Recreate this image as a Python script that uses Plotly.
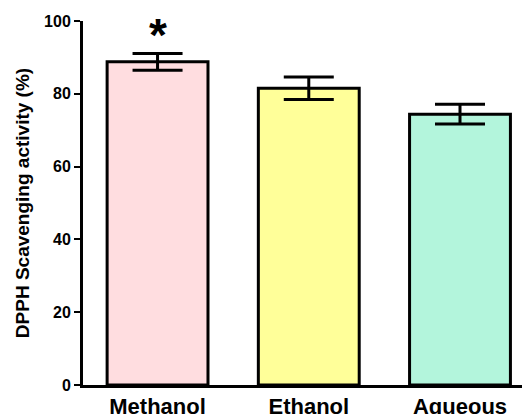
import plotly.graph_objects as go

categories = ["Methanol", "Ethanol", "Aqueous"]
means = [88.8, 81.5, 74.4]
errors = [2.3, 3.1, 2.7]
bar_colors = ["#FFDDE0", "#FFFF99", "#B3F5DC"]
significance = ["*", "", ""]
y_ticks = [0, 20, 40, 60, 80, 100]

FONT = "Liberation Sans, Arial, sans-serif"

fig = go.Figure()
fig.add_trace(go.Bar(
    x=categories, y=means,
    marker=dict(color=bar_colors, line=dict(color="black", width=3)),
    width=0.667,
    error_y=dict(type="data", array=errors, visible=True,
                 color="black", thickness=3, width=25),
))

for cat, m, e, s in zip(categories, means, errors, significance):
    if s:
        fig.add_annotation(x=cat, y=m + e, text="<b>" + s + "</b>", showarrow=False,
                           yanchor="bottom", yshift=-10,
                           font=dict(family=FONT, size=46, color="black"))

fig.update_layout(
    width=522, height=414,
    margin=dict(l=83, r=0, t=21, b=29, autoexpand=False),
    paper_bgcolor="white", plot_bgcolor="white",
    showlegend=False,
    font=dict(family=FONT, color="black"),
    bargap=0.333,
)
fig.update_yaxes(
    range=[0, 100], tickvals=y_ticks, automargin=False,
    showline=True, linecolor="black", linewidth=3,
    ticks="outside", ticklen=6, tickwidth=2, tickcolor="black",
    showgrid=False, zeroline=False,
    tickfont=dict(family=FONT, size=16, color="black", weight="bold"),
    title=dict(text="<b>DPPH Scavenging activity (%)</b>",
               font=dict(family=FONT, size=19, color="black"), standoff=10),
)
fig.update_xaxes(
    range=[-0.493, 2.41], automargin=False,
    showline=True, linecolor="black", linewidth=3,
    ticks="", showgrid=False,
    tickfont=dict(family=FONT, size=22, color="black", weight="bold"),
)

fig.write_html("out.html", config={"displayModeBar": False},
               post_script="document.body.style.margin='0';document.body.style.overflow='hidden';")
